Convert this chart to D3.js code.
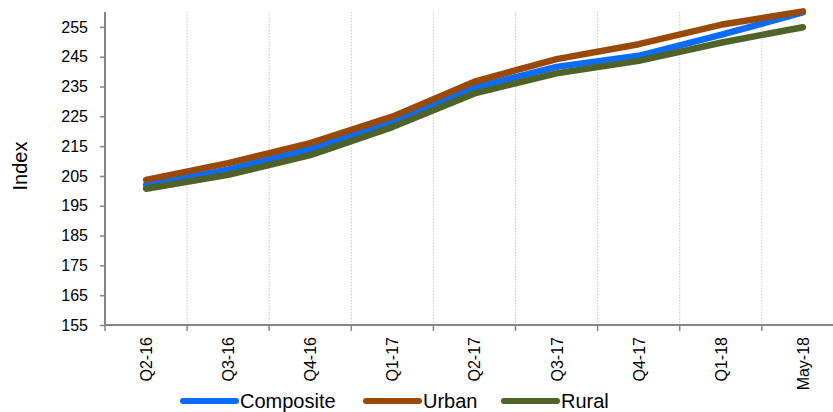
<!DOCTYPE html>
<html>

<head>
    <meta charset="UTF-8">
    <title>index</title>
    <script src="https://d3js.org/d3.v7.min.js"></script>
    <style>
        body { margin: 0; background: #fff; }
        svg { display: block; font-family: "Liberation Sans", Arial, sans-serif; }
    </style>
</head>

<body>
    <svg id="chart" width="833" height="412"></svg>
    <script>
        // data
        var categories = ["Q2-16", "Q3-16", "Q4-16", "Q1-17", "Q2-17", "Q3-17", "Q4-17", "Q1-18", "May-18"];
        var composite = [202.0, 207.1, 214.0, 222.9, 234.6, 241.6, 245.3, 252.3, 259.9];
        var urban = [203.7, 209.3, 216.0, 224.9, 236.6, 244.2, 249.2, 255.7, 260.2];
        var rural = [200.7, 205.4, 212.0, 221.4, 232.7, 239.4, 243.6, 249.7, 254.9];
        var yTicks = [155, 165, 175, 185, 195, 205, 215, 225, 235, 245, 255];
        var seriesNames = ["Composite", "Urban", "Rural"];

        var colors = ["#0a6cff", "#9a4a08", "#4f6228"];
        var seriesData = [composite, urban, rural];

        var svg = d3.select("#chart");

        // note: "top" is taken by window.top, so plotTop
        var plotLeft = 105, plotTop = 12, plotBottom = 325;
        var band = 82.1;

        var x = d3.scaleBand()
            .domain(categories)
            .range([plotLeft, plotLeft + band * categories.length])
            .paddingInner(0)
            .paddingOuter(0);

        var y = d3.scaleLinear()
            .domain([155, 260])
            .range([plotBottom, plotTop]);

        // dotted vertical gridlines between categories
        for (var i = 1; i < categories.length; i++) {
            var gx = x(categories[i]);
            svg.append("line")
                .attr("x1", gx).attr("x2", gx)
                .attr("y1", plotTop).attr("y2", plotBottom)
                .attr("stroke", "#c8c8c8")
                .attr("stroke-width", 1)
                .attr("stroke-dasharray", "1.5,1.5");
        }

        // y axis
        var yAxis = d3.axisLeft(y).tickValues(yTicks).tickSize(5).tickPadding(12);
        var gy = svg.append("g")
            .attr("transform", "translate(" + plotLeft + ",0)")
            .call(yAxis);
        gy.select(".domain").attr("stroke", "#868686").attr("stroke-width", 2)
            .attr("d", "M0," + plotTop + "V" + plotBottom);
        gy.selectAll(".tick line").attr("stroke", "#868686").attr("stroke-width", 1.5);
        gy.selectAll(".tick text")
            .attr("font-size", 16)
            .attr("fill", "#000")
            .attr("font-family", "'Liberation Sans', Arial, sans-serif");

        // x axis
        var gxAxis = svg.append("g").attr("transform", "translate(0," + plotBottom + ")");
        gxAxis.append("line")
            .attr("x1", plotLeft).attr("x2", 833)
            .attr("y1", 0).attr("y2", 0)
            .attr("stroke", "#868686")
            .attr("stroke-width", 2);
        for (var i = 0; i < categories.length; i++) {
            var tx = x(categories[i]);
            gxAxis.append("line")
                .attr("x1", tx).attr("x2", tx)
                .attr("y1", 0).attr("y2", 6)
                .attr("stroke", "#868686")
                .attr("stroke-width", 1.5);
            gxAxis.append("text")
                .attr("transform", "translate(" + (tx + x.bandwidth() / 2 + 6) + ",12) rotate(-90)")
                .attr("text-anchor", "end")
                .attr("font-size", 16)
                .attr("fill", "#000")
                .text(categories[i]);
        }

        // y axis title
        svg.append("text")
            .attr("transform", "translate(27,166) rotate(-90)")
            .attr("text-anchor", "middle")
            .attr("font-size", 20)
            .attr("fill", "#000")
            .text("Index");

        // lines
        var line = d3.line()
            .x(function(d, i) { return x(categories[i]) + x.bandwidth() / 2; })
            .y(function(d) { return y(d); });

        for (var s = 0; s < seriesData.length; s++) {
            svg.append("path")
                .datum(seriesData[s])
                .attr("d", line)
                .attr("fill", "none")
                .attr("stroke", colors[s])
                .attr("stroke-width", 6.5)
                .attr("stroke-linecap", "round")
                .attr("stroke-linejoin", "round");
        }

        // legend
        var legendX = [183, 366, 504];
        for (var s = 0; s < seriesNames.length; s++) {
            svg.append("line")
                .attr("x1", legendX[s]).attr("x2", legendX[s] + 53)
                .attr("y1", 401).attr("y2", 401)
                .attr("stroke", colors[s])
                .attr("stroke-width", 6)
                .attr("stroke-linecap", "round");
            svg.append("text")
                .attr("x", legendX[s] + 57)
                .attr("y", 408)
                .attr("font-size", 20)
                .attr("fill", "#000")
                .text(seriesNames[s]);
        }
    </script>
</body>

</html>
